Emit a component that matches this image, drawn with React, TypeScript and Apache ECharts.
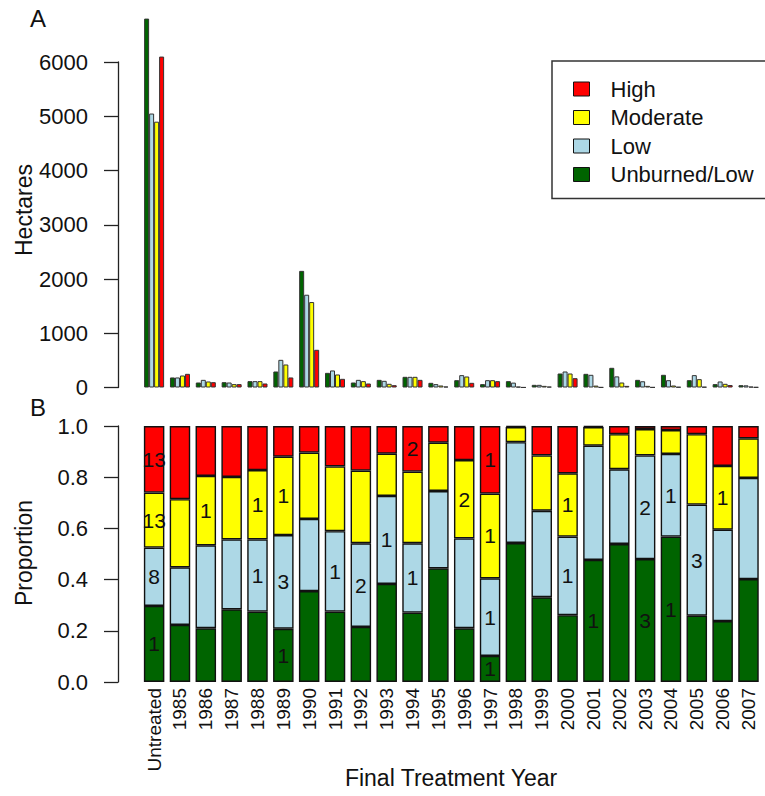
import React, { useEffect, useRef } from "react";
import * as echarts from "echarts";

const categories = ["Untreated", "1985", "1986", "1987", "1988", "1989", "1990", "1991", "1992", "1993", "1994", "1995", "1996", "1997", "1998", "1999", "2000", "2001", "2002", "2003", "2004", "2005", "2006", "2007"];

// Panel A: hectares
const haUnburned = [6800, 185, 92, 98, 117, 295, 2150, 270, 92, 141, 197, 86, 135, 62, 117, 49, 258, 252, 363, 141, 234, 135, 62, 43];
const haLow = [5050, 185, 141, 92, 117, 510, 1710, 314, 141, 123, 197, 62, 228, 135, 90, 49, 295, 234, 205, 115, 135, 228, 111, 40];
const haModerate = [4900, 221, 111, 62, 117, 424, 1575, 240, 117, 68, 197, 37, 203, 135, 15, 30, 258, 35, 92, 30, 37, 154, 68, 16];
const haHigh = [6100, 252, 98, 62, 74, 185, 695, 160, 74, 43, 141, 18, 86, 117, 2, 16, 172, 4, 30, 4, 10, 12, 45, 6];

// Panel B: proportions
const pUnburned = [0.297, 0.223, 0.21, 0.284, 0.275, 0.208, 0.355, 0.275, 0.215, 0.383, 0.271, 0.444, 0.21, 0.102, 0.543, 0.331, 0.261, 0.477, 0.539, 0.48, 0.568, 0.259, 0.238, 0.402];
const pLow = [0.228, 0.225, 0.324, 0.273, 0.282, 0.366, 0.282, 0.314, 0.327, 0.344, 0.271, 0.302, 0.351, 0.303, 0.394, 0.338, 0.307, 0.446, 0.292, 0.405, 0.323, 0.434, 0.357, 0.395];
const pModerate = [0.215, 0.266, 0.271, 0.244, 0.271, 0.306, 0.259, 0.253, 0.284, 0.165, 0.28, 0.189, 0.306, 0.331, 0.059, 0.216, 0.247, 0.073, 0.137, 0.103, 0.093, 0.275, 0.249, 0.155];
const pHigh = [0.26, 0.286, 0.195, 0.199, 0.172, 0.12, 0.104, 0.158, 0.174, 0.108, 0.178, 0.065, 0.133, 0.264, 0.004, 0.115, 0.185, 0.004, 0.032, 0.012, 0.016, 0.032, 0.156, 0.048];

// Panel B: counts printed in segments
const nHigh = [13, 0, 0, 0, 0, 0, 0, 0, 0, 0, 2, 0, 0, 1, 0, 0, 0, 0, 0, 0, 0, 0, 0, 0];
const nModerate = [13, 0, 1, 0, 1, 1, 0, 0, 0, 0, 0, 0, 2, 1, 0, 0, 1, 0, 0, 0, 0, 0, 1, 0];
const nLow = [8, 0, 0, 0, 1, 3, 0, 1, 2, 1, 1, 0, 0, 1, 0, 0, 1, 0, 0, 2, 1, 3, 0, 0];
const nUnburned = [1, 0, 0, 0, 0, 1, 0, 0, 0, 0, 0, 0, 0, 1, 0, 0, 0, 1, 0, 3, 1, 0, 0, 0];

const yTicksA = [0, 1000, 2000, 3000, 4000, 5000, 6000];
const legendNames = ["High", "Moderate", "Low", "Unburned/Low"];

const COLORS: Record<string, string> = {
  High: "#FF0000",
  Moderate: "#FFFF00",
  Low: "#ADD8E6",
  "Unburned/Low": "#006400",
};

const FONT = '"Liberation Sans", Arial, sans-serif';

export default function App() {
  const ref = useRef<HTMLDivElement>(null);
  useEffect(() => {
    if (!ref.current) return;
    const chart = echarts.init(ref.current, undefined, { renderer: "svg" });
    const gridLeft = 141.2;
    const gridWidth = 620.2;
    const axisColor = "#222";

    const aSeries = [
      { name: "Unburned/Low", data: haUnburned },
      { name: "Low", data: haLow },
      { name: "Moderate", data: haModerate },
      { name: "High", data: haHigh },
    ].map((s) => ({
      type: "bar",
      name: s.name,
      xAxisIndex: 0,
      yAxisIndex: 0,
      data: s.data,
      barWidth: 5,
      barGap: "0%",
      clip: false,
      itemStyle: { color: COLORS[s.name], borderColor: "#333", borderWidth: 1 },
    }));

    const bSeries = [
      { name: "Unburned/Low", data: pUnburned, n: nUnburned },
      { name: "Low", data: pLow, n: nLow },
      { name: "Moderate", data: pModerate, n: nModerate },
      { name: "High", data: pHigh, n: nHigh },
    ].map((s) => ({
      type: "bar",
      name: s.name,
      xAxisIndex: 1,
      yAxisIndex: 1,
      stack: "prop",
      data: s.data,
      barWidth: 20.5,
      itemStyle: { color: COLORS[s.name], borderColor: "#111", borderWidth: 1.4 },
      label: {
        show: true,
        position: "inside",
        fontFamily: FONT,
        fontSize: 21,
        color: "#111",
        formatter: (p: any) => (s.n[p.dataIndex] ? String(s.n[p.dataIndex]) : ""),
      },
    }));

    const yAxisCommon = {
      offset: gridLeft - 118,
      axisLine: { show: true, lineStyle: { color: axisColor, width: 1.3 } },
      axisTick: { show: true, length: 14, lineStyle: { color: axisColor, width: 1.3 } },
      splitLine: { show: false },
      axisLabel: { fontFamily: FONT, fontSize: 22, color: "#111", margin: 30 },
    };

    chart.setOption({
      animation: false,
      textStyle: { fontFamily: FONT },
      grid: [
        { left: gridLeft, width: gridWidth, top: 62, height: 325.5 },
        { left: gridLeft, width: gridWidth, top: 426, height: 256 },
      ],
      xAxis: [
        {
          type: "category",
          gridIndex: 0,
          data: categories,
          axisLine: { show: false },
          axisTick: { show: false },
          axisLabel: { show: false },
        },
        {
          type: "category",
          gridIndex: 1,
          data: categories,
          axisLine: { show: false },
          axisTick: { show: false },
          axisLabel: { rotate: 90, interval: 0, fontFamily: FONT, fontSize: 19, color: "#111", margin: 6 },
        },
      ],
      yAxis: [
        {
          type: "value",
          gridIndex: 0,
          min: 0,
          max: yTicksA[yTicksA.length - 1],
          interval: 1000,
          ...yAxisCommon,
          axisLabel: { ...yAxisCommon.axisLabel, formatter: (v: number) => String(v) },
        },
        {
          type: "value",
          gridIndex: 1,
          min: 0,
          max: 1,
          interval: 0.2,
          ...yAxisCommon,
          axisLabel: { ...yAxisCommon.axisLabel, formatter: (v: number) => v.toFixed(1) },
        },
      ],
      legend: {
        data: legendNames,
        orient: "vertical",
        left: 552,
        top: 61,
        padding: [17, 30, 13, 21],
        itemGap: 6.5,
        itemWidth: 16,
        itemHeight: 14,
        icon: "rect",
        selectedMode: false,
        borderColor: "#333",
        borderWidth: 1.5,
        itemStyle: { borderColor: "#111", borderWidth: 1 },
        textStyle: { fontFamily: FONT, fontSize: 22, color: "#111", lineHeight: 22, padding: [0, 0, 0, 16] },
      },
      graphic: [
        { type: "text", left: 30, top: 6, style: { text: "A", font: `24px ${FONT}`, fill: "#111" } },
        { type: "text", left: 30, top: 395, style: { text: "B", font: `24px ${FONT}`, fill: "#111" } },
        {
          type: "text",
          x: 24,
          y: 210,
          rotation: Math.PI / 2,
          style: { text: "Hectares", font: `23px ${FONT}`, fill: "#111", textAlign: "center", textVerticalAlign: "middle", align: "center", verticalAlign: "middle" },
        },
        {
          type: "text",
          x: 24,
          y: 553,
          rotation: Math.PI / 2,
          style: { text: "Proportion", font: `23px ${FONT}`, fill: "#111", textAlign: "center", textVerticalAlign: "middle", align: "center", verticalAlign: "middle" },
        },
        {
          type: "text",
          x: 451,
          y: 778,
          style: { text: "Final Treatment Year", font: `23px ${FONT}`, fill: "#111", textAlign: "center", textVerticalAlign: "middle", align: "center", verticalAlign: "middle" },
        },
      ],
      series: [...aSeries, ...bSeries],
    });
    return () => chart.dispose();
  }, []);
  return <div ref={ref} style={{ position: "fixed", left: 0, top: 0, width: 765, height: 796, background: "#fff" }} />;
}
